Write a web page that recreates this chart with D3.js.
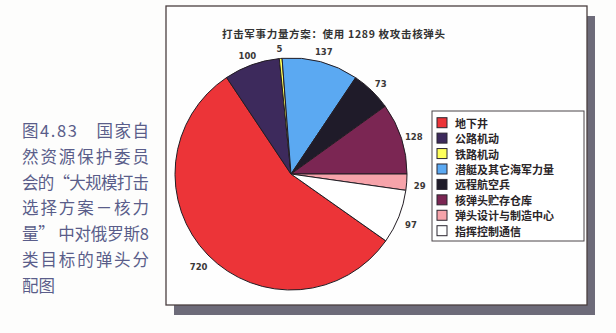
<!DOCTYPE html>
<html>
<head>
<meta charset="utf-8">
<script src="https://cdn.jsdelivr.net/npm/d3@7"></script>
<style>
  body { margin: 0; background: #fdfdfc; }
  svg { display: block; }
</style>
</head>
<body>
<div id="pieChart"></div>
<script>
// chart data
const categories = ["地下井", "公路机动", "铁路机动", "潜艇及其它海军力量",
                    "远程航空兵", "核弹头贮存仓库", "弹头设计与制造中心", "指挥控制通信"];
const warheads = [720, 100, 5, 137, 73, 128, 29, 97];
const palette = ["#ec3438", "#3d2a5c", "#ffff5a", "#5ba9f2", "#1f1b29", "#7b2653", "#f6a3aa", "#ffffff"];
const chartTitle = "打击军事力量方案：使用 1289 枚攻击核弹头";
const captionLines = ["图4.83　国家自", "然资源保护委员", "会的“大规模打击",
                      "选择方案－核力", "量” 中对俄罗斯8", "类目标的弹头分", "配图"];

const width = 616, height = 333;

const svg = d3.select("#pieChart")
  .append("svg")
    .attr("width", width)
    .attr("height", height);

// caption on the left
svg.append("g")
  .selectAll("text")
  .data(captionLines)
  .join("text")
    .attr("x", 22)
    .attr("y", (d, i) => 130 + i * 25.8)
    .attr("dominant-baseline", "central")
    .attr("font-family", "'Noto Sans CJK SC', sans-serif")
    .attr("font-size", 16.5)
    .attr("fill", "#5a5d8a")
    .attr("textLength", (d, i) => i < captionLines.length - 1 ? 127 : null)
    .attr("lengthAdjust", "spacing")
    .text(d => d);

// framed chart area with drop shadow
const box = {x: 166, y: 6, w: 421, h: 299};
svg.append("rect")
  .attr("x", box.x + 8).attr("y", box.y + 10)
  .attr("width", box.w).attr("height", box.h)
  .attr("fill", "#6d6b79");
svg.append("rect")
  .attr("x", box.x).attr("y", box.y)
  .attr("width", box.w).attr("height", box.h)
  .attr("fill", "#fefefe")
  .attr("stroke", "#4b3f40")
  .attr("stroke-width", 1.3);

svg.append("text")
  .attr("x", 222)
  .attr("y", 33.5)
  .attr("dominant-baseline", "central")
  .attr("font-family", "'Noto Sans CJK SC', serif")
  .attr("font-weight", "bold")
  .attr("font-size", 10.5)
  .attr("fill", "#333")
  .attr("textLength", 223)
  .attr("lengthAdjust", "spacing")
  .text(chartTitle);

// pie
const cx = 291, cy = 174, radius = 116;
const total = d3.sum(warheads);
// the last two slices sit below the 3 o'clock line
const a0 = Math.PI / 2 + 2 * Math.PI * d3.sum(warheads.slice(6)) / total;

const pie = d3.pie()
  .sort(null)
  .startAngle(a0)
  .endAngle(a0 + 2 * Math.PI);

const color = d3.scaleOrdinal()
  .domain(categories)
  .range(palette);

const arc = d3.arc().innerRadius(0).outerRadius(radius);
const labelArc = d3.arc().innerRadius(129).outerRadius(129);

const arcs = pie(warheads).map((p, i) => ({...p, cat: categories[i]}));

const pieG = svg.append("g")
  .attr("transform", `translate(${cx}, ${cy})`);

pieG.selectAll("path")
  .data(arcs)
  .join("path")
    .attr("d", arc)
    .attr("fill", d => color(d.cat))
    .attr("stroke", "#231d24")
    .attr("stroke-width", 1)
    .attr("stroke-linejoin", "round");

pieG.selectAll("text")
  .data(arcs)
  .join("text")
    .attr("transform", d => {
      const [lx, ly] = labelArc.centroid(d);
      return `translate(${lx}, ${ly + 3})`;
    })
    .attr("text-anchor", "middle")
    .attr("dominant-baseline", "central")
    .attr("font-family", "'DejaVu Sans', sans-serif")
    .attr("font-weight", "bold")
    .attr("font-size", 8.5)
    .attr("fill", "#3a3838")
    .text(d => d.data);

// legend
const legend = svg.append("g")
  .attr("transform", "translate(432, 111)");

legend.append("rect")
  .attr("width", 152)
  .attr("height", 130)
  .attr("fill", "#fff")
  .attr("stroke", "#4a4448")
  .attr("stroke-width", 1);

const rowY = d3.scalePoint()
  .domain(categories)
  .range([11.7, 119.7]);

const rows = legend.selectAll("g.row")
  .data(categories)
  .join("g")
    .attr("class", "row")
    .attr("transform", d => `translate(0, ${rowY(d)})`);

rows.append("rect")
  .attr("x", 5)
  .attr("y", -5)
  .attr("width", 10)
  .attr("height", 10)
  .attr("fill", d => color(d))
  .attr("stroke", "#2b2630")
  .attr("stroke-width", 1);

rows.append("text")
  .attr("x", 23)
  .attr("dominant-baseline", "central")
  .attr("font-family", "'Noto Sans CJK SC', serif")
  .attr("font-weight", "bold")
  .attr("font-size", 11)
  .attr("fill", "#2a2528")
  .text(d => d);
</script>
</body>
</html>
